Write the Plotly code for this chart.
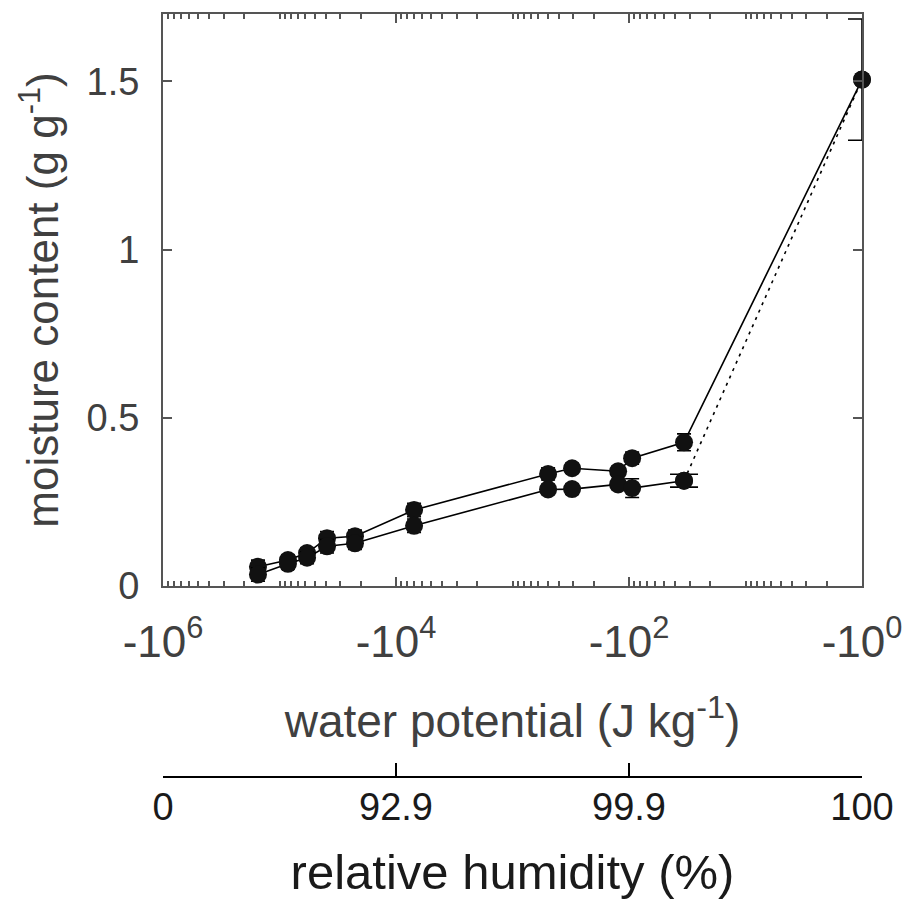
import plotly.graph_objects as go

# water potential (J/kg) of the measured points
psi = [-153000, -84600, -58000, -39100, -22500, -7000, -495, -308, -124, -94, -33.7]
upper = [0.057, 0.077, 0.098, 0.142, 0.148, 0.226, 0.333, 0.350, 0.341, 0.380, 0.427]
upper_err = [0.02, 0.015, 0.015, 0.02, 0.018, 0.02, 0.018, 0.015, 0.015, 0.018, 0.025]
lower = [0.034, 0.066, 0.084, 0.118, 0.127, 0.179, 0.287, 0.288, 0.302, 0.291, 0.313]
lower_err = [0.02, 0.015, 0.018, 0.02, 0.018, 0.02, 0.015, 0.015, 0.015, 0.028, 0.0]
lower_last_err = 0.019
sat_psi = -1.0
sat_value = 1.505
sat_err = 0.18

xticks_psi = [-1e6, -1e4, -1e2, -1]
xtick_text = ["-10<sup>6</sup>", "-10<sup>4</sup>", "-10<sup>2</sup>", "-10<sup>0</sup>"]
rh_text = ["0", "92.9", "99.9", "100"]
yticks = [0, 0.5, 1, 1.5]
ytick_text = ["0", "0.5", "1", "1.5"]

ax = [-p for p in psi]
sat_x = -sat_psi
minor_vals = [m * 10 ** e for e in range(0, 6) for m in range(1, 10)
              if not (m == 1 and e % 2 == 0)]

FONT = "Liberation Sans, Arial, sans-serif"
GRAY = "#404040"
AXC = "#555555"

fig = go.Figure()
fig.add_trace(go.Scatter(
    x=ax + [sat_x], y=upper + [sat_value], mode="lines+markers",
    line=dict(color="black", width=1.6),
    marker=dict(color="#111111", size=18),
    error_y=dict(type="data", array=upper_err + [0], color="black", thickness=1.6, width=7),
    cliponaxis=False, showlegend=False))
fig.add_trace(go.Scatter(
    x=ax, y=lower, mode="lines+markers",
    line=dict(color="black", width=1.6),
    marker=dict(color="#111111", size=18),
    error_y=dict(type="data", array=lower_err, color="black", thickness=1.6, width=7),
    cliponaxis=False, showlegend=False))
fig.add_trace(go.Scatter(
    x=[ax[-1], sat_x], y=[lower[-1], sat_value], mode="lines",
    line=dict(color="black", width=1.6, dash="3px,5px"),
    cliponaxis=False, showlegend=False))
fig.add_trace(go.Scatter(
    x=[ax[-1], sat_x], y=[lower[-1], sat_value], mode="markers",
    marker=dict(color="#111111", size=18),
    error_y=dict(type="data", array=[lower_last_err, sat_err], color="black",
                 thickness=1.6, width=14),
    cliponaxis=False, showlegend=False))
# invisible trace to realise the relative-humidity axis
fig.add_trace(go.Scatter(x=[1e6, 1], y=[None, None], xaxis="x2", yaxis="y",
                         mode="markers", showlegend=False, hoverinfo="skip"))

fig.update_layout(
    width=902, height=899,
    margin=dict(l=155, r=48, t=4, b=10),
    paper_bgcolor="white", plot_bgcolor="rgba(0,0,0,0)",
    font=dict(family=FONT, size=36, color=GRAY),
    xaxis=dict(
        type="log", range=[6, 0], domain=[0, 1], anchor="y",
        tickmode="array", tickvals=[-v for v in xticks_psi], ticktext=xtick_text,
        ticks="inside", ticklen=9, tickwidth=2, tickcolor=AXC,
        minor=dict(tickmode="array", tickvals=minor_vals, ticks="inside",
                   ticklen=5, tickwidth=1.5, tickcolor=AXC),
        showline=True, linecolor=AXC, linewidth=2, mirror="ticks",
        showgrid=False, zeroline=False,
        tickfont=dict(size=44, color=GRAY), ticklabelstandoff=16,
        title=dict(text="water potential (J kg<sup>-1</sup>)",
                   font=dict(size=46, color=GRAY), standoff=40),
    ),
    xaxis2=dict(
        type="log", range=[6, 0], domain=[0, 1], anchor="free", position=0.1214,
        tickmode="array", tickvals=[-v for v in xticks_psi], ticktext=rh_text,
        ticks="inside", ticklen=13, tickwidth=2, tickcolor="black",
        showline=True, linecolor="black", linewidth=2,
        showgrid=False, zeroline=False,
        tickfont=dict(size=38, color="#1a1a1a"), ticklabelstandoff=-3,
        title=dict(text="relative humidity (%)",
                   font=dict(size=49, color="#1a1a1a"), standoff=26),
    ),
    yaxis=dict(
        range=[0, 1.7], domain=[0.341, 1],
        tickmode="array", tickvals=yticks, ticktext=ytick_text,
        ticks="inside", ticklen=9, tickwidth=2, tickcolor=AXC,
        showline=True, linecolor=AXC, linewidth=2, mirror="ticks",
        showgrid=False, zeroline=False,
        tickfont=dict(size=38, color=GRAY), ticklabelstandoff=14,
        title=dict(text="moisture content (g g<sup>-1</sup>)",
                   font=dict(size=44, color=GRAY), standoff=14),
    ),
)

fig.write_html("out.html")
